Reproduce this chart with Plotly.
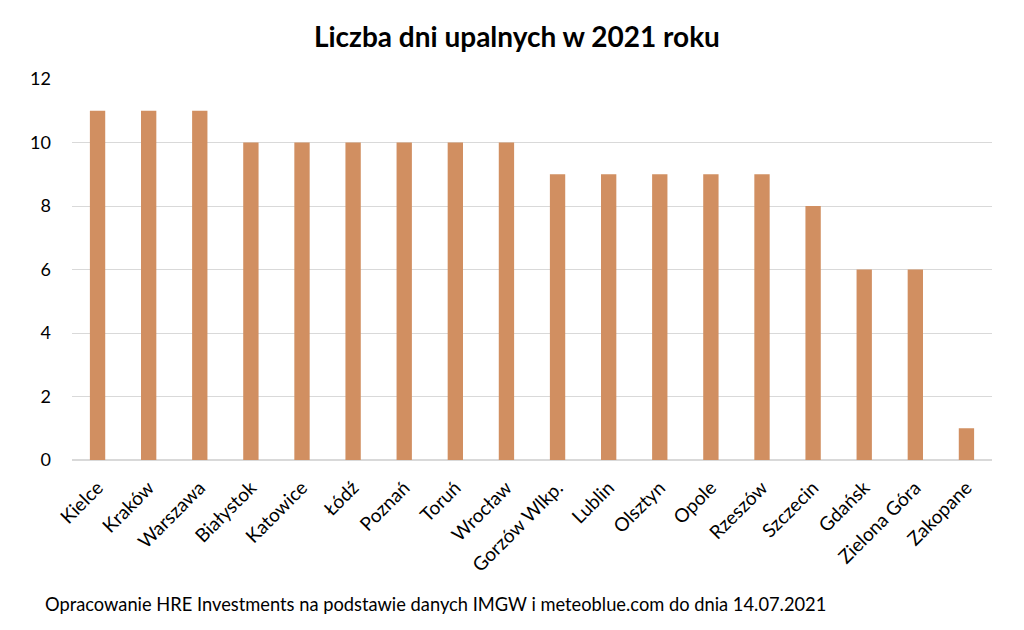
import plotly.graph_objects as go

cities = ["Kielce", "Kraków", "Warszawa", "Białystok", "Katowice", "Łódź", "Poznań",
          "Toruń", "Wrocław", "Gorzów Wlkp.", "Lublin", "Olsztyn", "Opole", "Rzeszów",
          "Szczecin", "Gdańsk", "Zielona Góra", "Zakopane"]
days = [11, 11, 11, 10, 10, 10, 10, 10, 10, 9, 9, 9, 9, 9, 8, 6, 6, 1]
y_ticks = [0, 2, 4, 6, 8, 10, 12]

title = "Liczba dni upalnych w 2021 roku"
source = "Opracowanie HRE Investments na podstawie danych IMGW i meteoblue.com do dnia 14.07.2021"

FONT = "Lato, 'Open Sans', sans-serif"

fig = go.Figure(go.Bar(x=cities, y=days, marker=dict(color="#D18F61", line=dict(width=0))))

fig.update_layout(
    width=1024, height=630,
    margin=dict(l=64, r=40, t=71, b=178, autoexpand=False),
    paper_bgcolor="white", plot_bgcolor="white",
    bargap=0.70,
    showlegend=False,
    font=dict(family=FONT, color="#000000", size=18),
    title=dict(text="<b>" + title + "</b>", x=0.497, xanchor="center", y=0.954, yanchor="middle",
               font=dict(size=28, family=FONT, color="#000")),
    xaxis=dict(tickangle=-45, showgrid=False, showline=False, ticks="", automargin=False,
               ticklabelstandoff=12,
               tickfont=dict(size=19, family=FONT, color="#000")),
    yaxis=dict(range=[0, 12], tickvals=y_ticks, showgrid=True, gridcolor="#D9D9D9", gridwidth=1,
               zeroline=True, zerolinecolor="#D9D9D9", zerolinewidth=1.5, ticks="",
               ticklabelstandoff=20, automargin=False,
               tickfont=dict(size=18, family=FONT, color="#000")),
    annotations=[dict(text=source, xref="paper", yref="paper", x=-0.032, y=-0.378, xanchor="left",
                      yanchor="middle", showarrow=False, font=dict(size=18.3, family=FONT, color="#000"))],
)

fig.write_html("out.html")
